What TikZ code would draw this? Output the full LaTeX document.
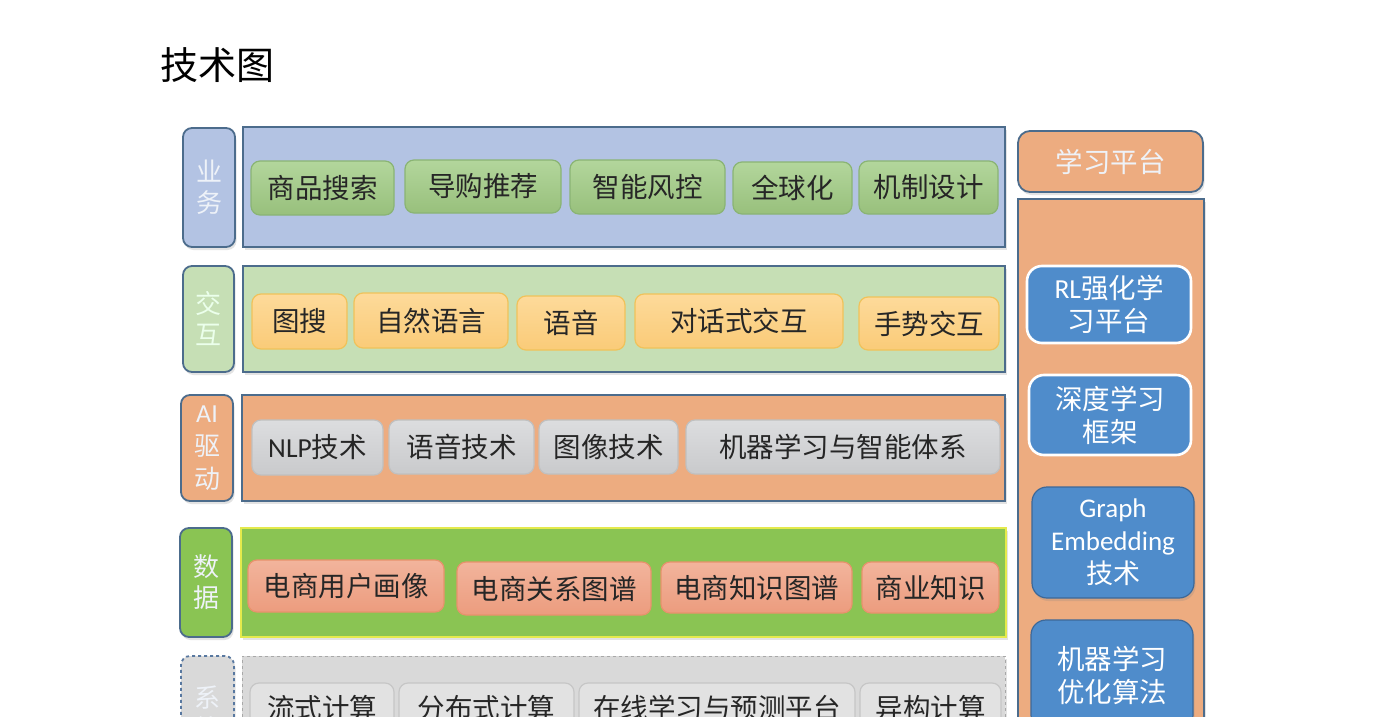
\documentclass[tikz,border=0pt]{standalone}
\usepackage{fontspec}
\setmainfont{Noto Sans CJK SC}
\newfontfamily\lat{Carlito}
\usetikzlibrary{shadows}
\definecolor{panelb}{HTML}{4C6C8C}
\definecolor{bluebg}{HTML}{B3C3E3}
\definecolor{greenbg}{HTML}{C6DFB5}
\definecolor{orangebg}{HTML}{EDAC80}
\definecolor{datagbg}{HTML}{8AC453}
\definecolor{datab}{HTML}{E4EA4C}
\definecolor{sysbg}{HTML}{D9D9D9}
\definecolor{sysb}{HTML}{A8A8A8}
\definecolor{syslb}{HTML}{5878A0}
\definecolor{gitt}{HTML}{B3D69C}
\definecolor{gitb}{HTML}{98C07C}
\definecolor{gitd}{HTML}{8AB474}
\definecolor{yitt}{HTML}{FDDA9A}
\definecolor{yitb}{HTML}{FACB78}
\definecolor{yitd}{HTML}{F0C25A}
\definecolor{grt}{HTML}{DCDDDF}
\definecolor{grb}{HTML}{C9CACC}
\definecolor{grd}{HTML}{C0C0C0}
\definecolor{sat}{HTML}{F2B49C}
\definecolor{sab}{HTML}{EC9C7E}
\definecolor{sad}{HTML}{E8926C}
\definecolor{syt}{HTML}{E2E2E2}
\definecolor{syd}{HTML}{C6C6C6}
\definecolor{bluef}{HTML}{4F8CCB}
\definecolor{blueb}{HTML}{3D6898}
\definecolor{txt}{HTML}{262626}
\definecolor{labtxt}{HTML}{EEF2F8}
\newcommand\mybox[7]{%
  \pgfmathsetmacro\bxw{#5-#3}\pgfmathsetmacro\bxh{#6-#4}%
  \pgfmathsetmacro\bxx{(#3+#5)/2}\pgfmathsetmacro\bxy{(#4+#6)/2}%
  \node[#2, minimum width=\bxw pt, minimum height=\bxh pt] (#1) at (\bxx,\bxy) {#7};}
\begin{document}
\begin{tikzpicture}[x=1pt,y=-1pt,
  base/.style={inner sep=0pt, outer sep=0pt, line width=1.2pt, align=center,
    font=\fontsize{27.5}{33}\selectfont},
  shad/.style={drop shadow={shadow xshift=1.5pt,shadow yshift=-3pt,opacity=.22}},
  panel/.style={base, shad, draw=panelb, line width=1.5pt},
  lab/.style={base, shad, rounded corners=9pt, draw=panelb, line width=1.8pt, text=labtxt,
    font=\fontsize{26}{31}\selectfont},
  itm/.style={base, rounded corners=9pt, text=txt},
  gitem/.style={itm, draw=gitd, top color=gitt, bottom color=gitb},
  yitem/.style={itm, draw=yitd, top color=yitt, bottom color=yitb},
  gritem/.style={itm, draw=grd, top color=grt, bottom color=grb},
  saitem/.style={itm, draw=sad, top color=sat, bottom color=sab},
  syitem/.style={itm, draw=syd, fill=syt},
  bluew/.style={base, rounded corners=15pt, fill=bluef, draw=white, line width=2.6pt, text=white},
  blued/.style={base, shad, rounded corners=15pt, fill=bluef, draw=blueb, line width=1.2pt, text=white}
]
\clip (0,0) rectangle (1394,717);
\fill[white] (0,0) rectangle (1394,717);

\node[anchor=west, inner sep=0pt, font=\fontsize{38}{40}\selectfont, text=black] (title) at (160,65) {技术图};

% Row 1
\mybox{l1}{lab, fill=bluebg}{183}{128}{235}{247}{业\\务}
\mybox{p1}{panel, fill=bluebg}{243}{127}{1005}{247}{}
\mybox{b11}{gitem}{251}{161}{394}{215}{商品搜索}
\mybox{b12}{gitem}{405}{160}{561}{213}{导购推荐}
\mybox{b13}{gitem}{570}{160}{725}{214}{智能风控}
\mybox{b14}{gitem}{733}{162}{852}{214}{全球化}
\mybox{b15}{gitem}{859}{161}{998}{214}{机制设计}

% Row 2
\mybox{l2}{lab, fill=greenbg, text=green!8!white}{183}{266}{234}{372}{交\\互}
\mybox{p2}{panel, fill=greenbg}{243}{266}{1005}{372}{}
\mybox{b21}{yitem}{252}{294}{347}{349}{图搜}
\mybox{b22}{yitem}{354}{293}{508}{348}{自然语言}
\mybox{b23}{yitem}{517}{296}{625}{350}{语音}
\mybox{b24}{yitem}{635}{294}{843}{348}{对话式交互}
\mybox{b25}{yitem}{859}{297}{999}{350}{手势交互}

% Row 3
\mybox{l3}{lab, fill=orangebg, font=\fontsize{26}{33}\selectfont}{181}{395}{233}{501}{{\lat AI}\\驱\\动}
\mybox{p3}{panel, fill=orangebg}{242}{395}{1005}{501}{}
\mybox{b31}{gritem}{252}{420}{383}{475}{{\lat NLP}技术}
\mybox{b32}{gritem}{389}{420}{534}{474}{语音技术}
\mybox{b33}{gritem}{539}{420}{678}{474}{图像技术}
\mybox{b34}{gritem}{686}{420}{1000}{474}{机器学习与智能体系}

% Row 4
\mybox{l4}{lab, fill=datagbg}{180}{528}{232}{637}{数\\据}
\mybox{p4}{panel, fill=datagbg, draw=datab}{241}{528}{1006}{637}{}
\mybox{b41}{saitem}{248}{560}{444}{612}{电商用户画像}
\mybox{b42}{saitem}{457}{562}{651}{615}{电商关系图谱}
\mybox{b43}{saitem}{661}{562}{852}{613}{电商知识图谱}
\mybox{b44}{saitem}{862}{562}{999}{613}{商业知识}

% Row 5
\mybox{l5}{lab, fill=sysbg, draw=syslb, dashed}{181}{656}{234}{770}{系\\统}
\mybox{p5}{panel, fill=sysbg, draw=sysb, dashed, line width=1pt}{242}{656}{1005}{770}{}
\mybox{b51}{syitem}{250}{683}{394}{733}{流式计算}
\mybox{b52}{syitem}{399}{683}{574}{733}{分布式计算}
\mybox{b53}{syitem}{579}{683}{855}{733}{在线学习与预测平台}
\mybox{b54}{syitem}{860}{683}{1001}{733}{异构计算}

% Right column
\mybox{lp}{lab, fill=orangebg, rounded corners=12pt, font=\fontsize{27.5}{33}\selectfont}{1018}{131}{1203}{192}{学习平台}
\mybox{rp}{panel, fill=orangebg}{1018}{199}{1204}{770}{}
\mybox{r1}{bluew}{1027}{266}{1191}{343}{{\lat RL}强化学\\习平台}
\mybox{r2}{bluew}{1029}{375}{1191}{455}{深度学习\\框架}
\mybox{r3}{blued, font=\fontsize{27}{33}\selectfont}{1032}{487}{1194}{598}{{\lat Graph}\\{\lat Embedding}\\技术}
\mybox{r4}{blued}{1031}{620}{1193}{730}{机器学习\\优化算法}
\end{tikzpicture}
\end{document}
